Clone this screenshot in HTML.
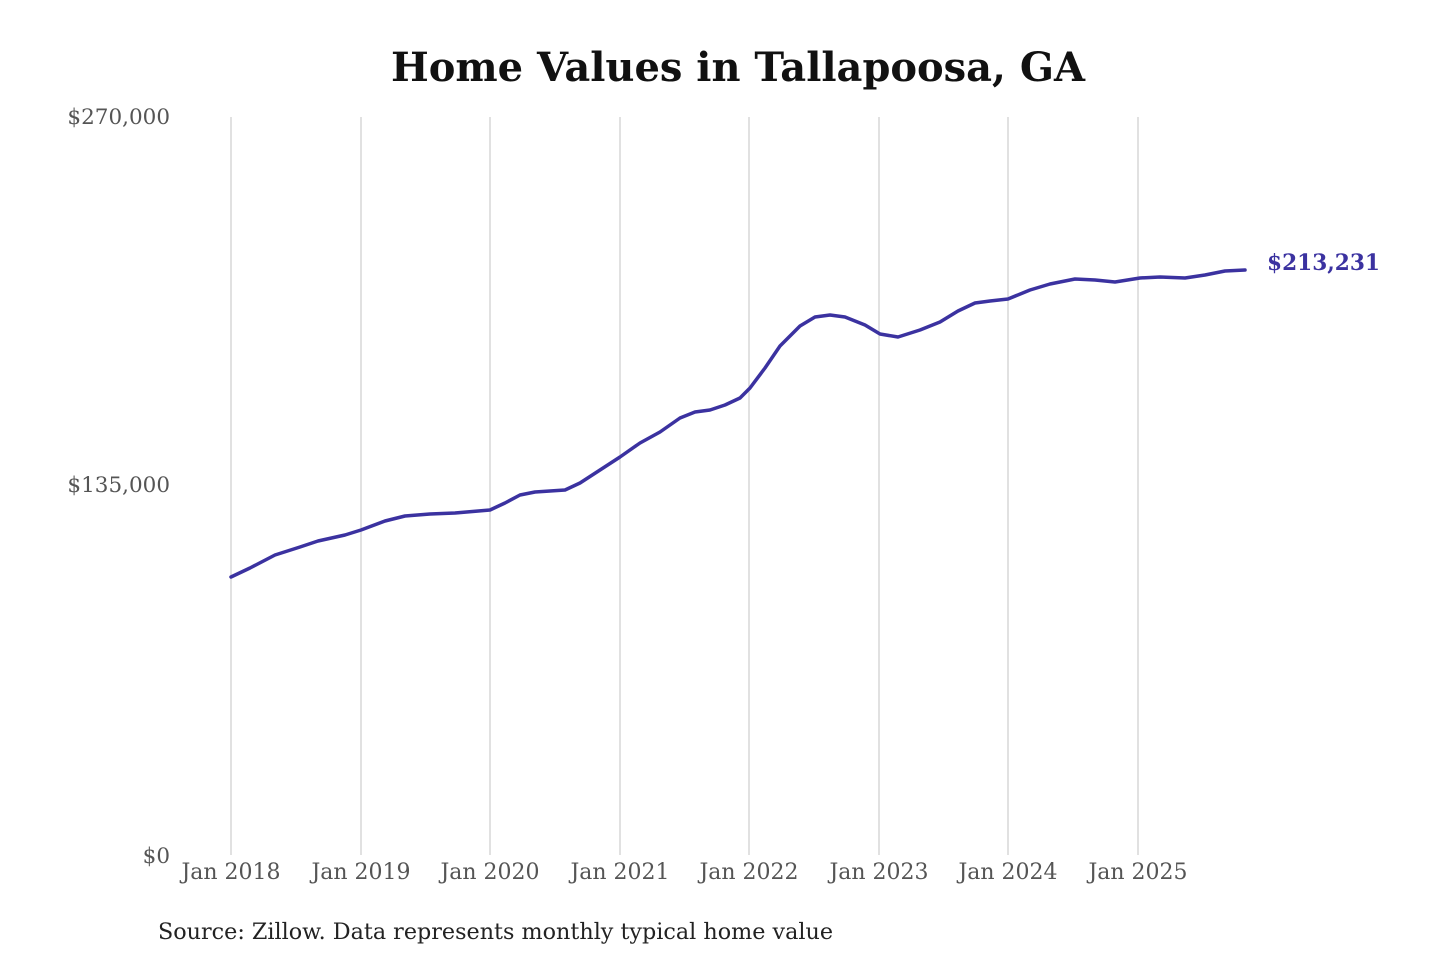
<!DOCTYPE html>
<html><head><meta charset="utf-8"><style>
html,body{margin:0;padding:0;background:#fff;}
svg{display:block;}
</style></head><body>
<svg width="1440" height="960" xmlns="http://www.w3.org/2000/svg" font-family="'DejaVu Serif','Liberation Serif',serif">
<rect width="1440" height="960" fill="#fff"/>
<text x="738" y="81" text-anchor="middle" font-size="40" font-weight="bold" fill="#111" textLength="694" lengthAdjust="spacingAndGlyphs">Home Values in Tallapoosa, GA</text>
<g stroke="#c8c8c8" stroke-width="1.1">
<line x1="231" y1="117" x2="231" y2="855"/>
<line x1="361" y1="117" x2="361" y2="855"/>
<line x1="490" y1="117" x2="490" y2="855"/>
<line x1="620" y1="117" x2="620" y2="855"/>
<line x1="749" y1="117" x2="749" y2="855"/>
<line x1="879" y1="117" x2="879" y2="855"/>
<line x1="1008" y1="117" x2="1008" y2="855"/>
<line x1="1138" y1="117" x2="1138" y2="855"/>
</g>
<g font-size="21.5" fill="#555" text-anchor="end">
<text x="170" y="124">$270,000</text>
<text x="170" y="492">$135,000</text>
<text x="170" y="863">$0</text>
</g>
<g font-size="22" fill="#555" text-anchor="middle">
<text x="231" y="879">Jan 2018</text>
<text x="361" y="879">Jan 2019</text>
<text x="490" y="879">Jan 2020</text>
<text x="620" y="879">Jan 2021</text>
<text x="749" y="879">Jan 2022</text>
<text x="879" y="879">Jan 2023</text>
<text x="1008" y="879">Jan 2024</text>
<text x="1138" y="879">Jan 2025</text>
</g>
<polyline fill="none" stroke="#3b32a0" stroke-width="3.5" stroke-linejoin="round" stroke-linecap="round" points="231,577 250,568 275,555 300,547 318,541 345,535 361,530 385,521 405,516 430,514 455,513 490,510 505,503 520,495 535,492 565,490 580,483 600,470 620,457 640,443 660,432 680,418 695,412 710,410 725,405 740,398 750,388 765,368 780,346 800,326 815,317 830,315 845,317 865,325 880,334 898,337 920,330 940,322 958,311 975,303 990,301 1008,299 1030,290 1050,284 1075,279 1095,280 1115,282 1140,278 1160,277 1185,278 1205,275 1225,271 1245,270"/>
<text x="1267" y="270" font-size="22" font-weight="bold" fill="#3b32a0" textLength="113" lengthAdjust="spacingAndGlyphs">$213,231</text>
<text x="158" y="939" font-size="22" fill="#222" textLength="675" lengthAdjust="spacingAndGlyphs">Source: Zillow. Data represents monthly typical home value</text>
</svg>
</body></html>
